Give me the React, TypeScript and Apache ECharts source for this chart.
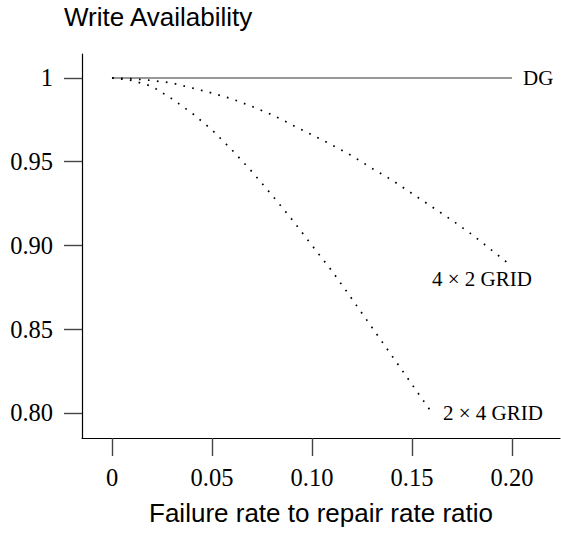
import React, { useEffect, useRef } from "react";
import * as echarts from "echarts";

const xValues = [0, 0.01, 0.02, 0.03, 0.04, 0.05, 0.06, 0.07, 0.08, 0.09, 0.1, 0.11, 0.12, 0.13, 0.14, 0.15, 0.16, 0.17, 0.18, 0.19, 0.2];
const dgValues = [1, 1, 1, 1, 1, 1, 1, 1, 1, 1, 1, 1, 1, 1, 1, 1, 1, 1, 1, 1, 1];
const grid4x2Values = [1, 0.9995, 0.9985, 0.997, 0.994, 0.991, 0.9875, 0.983, 0.978, 0.972, 0.966, 0.96, 0.9535, 0.946, 0.939, 0.931, 0.923, 0.915, 0.9065, 0.897, 0.8875];
const grid2x4Values = [1, 0.9985, 0.995, 0.9875, 0.979, 0.969, 0.957, 0.944, 0.93, 0.9155, 0.9, 0.8847, 0.868, 0.851, 0.834, 0.817, 0.8];
const xTicks = [0, 0.05, 0.1, 0.15, 0.2];
const yTicks = [0.8, 0.85, 0.9, 0.95, 1];
const seriesNames = ["DG", "4 × 2 GRID", "2 × 4 GRID"];

const serif = "'Liberation Serif', 'Times New Roman', serif";
const sans = "'Liberation Sans', Arial, sans-serif";

export default function App() {
  const ref = useRef<HTMLDivElement>(null);
  useEffect(() => {
    if (!ref.current) return;
    const chart = echarts.init(ref.current, null, { renderer: "svg" });
    const pairs = (vals: number[]) => vals.map((v, i) => [xValues[i], v]);
    const dotted = { color: "#000", width: 1.7, type: [1.7, 7.3] as any, cap: "butt" as any };
    chart.setOption({
      animation: false,
      backgroundColor: "#fff",
      title: {
        text: "Write Availability",
        left: 59,
        top: -1,
        textStyle: { fontFamily: sans, fontSize: 26, fontWeight: "normal", color: "#000" },
      },
      grid: { left: 82, right: 1, top: 54, bottom: 96, containLabel: false, outerBoundsMode: "none" },
      xAxis: {
        type: "value",
        min: -0.015,
        max: 0.224,
        name: "Failure rate to repair rate ratio",
        nameLocation: "middle",
        nameGap: 62,
        nameTextStyle: { fontFamily: sans, fontSize: 26, color: "#000" },
        axisLine: { show: true, onZero: false, lineStyle: { color: "#000", width: 1.2 } },
        axisTick: { show: true, length: 18, customValues: xTicks, lineStyle: { color: "#444", width: 1.4 } },
        axisLabel: {
          customValues: xTicks,
          margin: 27,
          fontFamily: serif,
          fontSize: 24.5,
          color: "#000",
          formatter: (v: number) => (v === 0 ? "0" : v.toFixed(2)),
        },
        splitLine: { show: false },
      },
      yAxis: {
        type: "value",
        min: 0.785,
        max: 1.0143,
        axisLine: { show: true, onZero: false, lineStyle: { color: "#000", width: 1.2 } },
        axisTick: { show: true, length: 18, customValues: yTicks, lineStyle: { color: "#444", width: 1.4 } },
        axisLabel: {
          customValues: yTicks,
          margin: 29,
          fontFamily: serif,
          fontSize: 24.5,
          color: "#000",
          formatter: (v: number) => (v === 1 ? "1" : v.toFixed(2)),
        },
        splitLine: { show: false },
      },
      series: [
        {
          name: seriesNames[0],
          type: "line",
          data: pairs(dgValues),
          showSymbol: false,
          lineStyle: { color: "#777", width: 1.6 },
          endLabel: {
            show: true,
            formatter: seriesNames[0],
            distance: 11,
            fontFamily: serif,
            fontSize: 21,
            color: "#000",
          },
        },
        {
          name: seriesNames[1],
          type: "line",
          data: pairs(grid4x2Values),
          showSymbol: false,
          lineStyle: dotted,
          endLabel: {
            show: true,
            formatter: seriesNames[1],
            distance: 0,
            offset: [-80, 13],
            fontFamily: serif,
            fontSize: 21,
            color: "#000",
          },
        },
        {
          name: seriesNames[2],
          type: "line",
          data: pairs(grid2x4Values),
          showSymbol: false,
          lineStyle: dotted,
          endLabel: {
            show: true,
            formatter: seriesNames[2],
            distance: 11,
            offset: [0, 0],
            fontFamily: serif,
            fontSize: 21,
            color: "#000",
          },
        },
      ],
    });
    return () => chart.dispose();
  }, []);
  return <div ref={ref} style={{ width: 561, height: 534, position: "absolute", left: 0, top: 0 }} />;
}
